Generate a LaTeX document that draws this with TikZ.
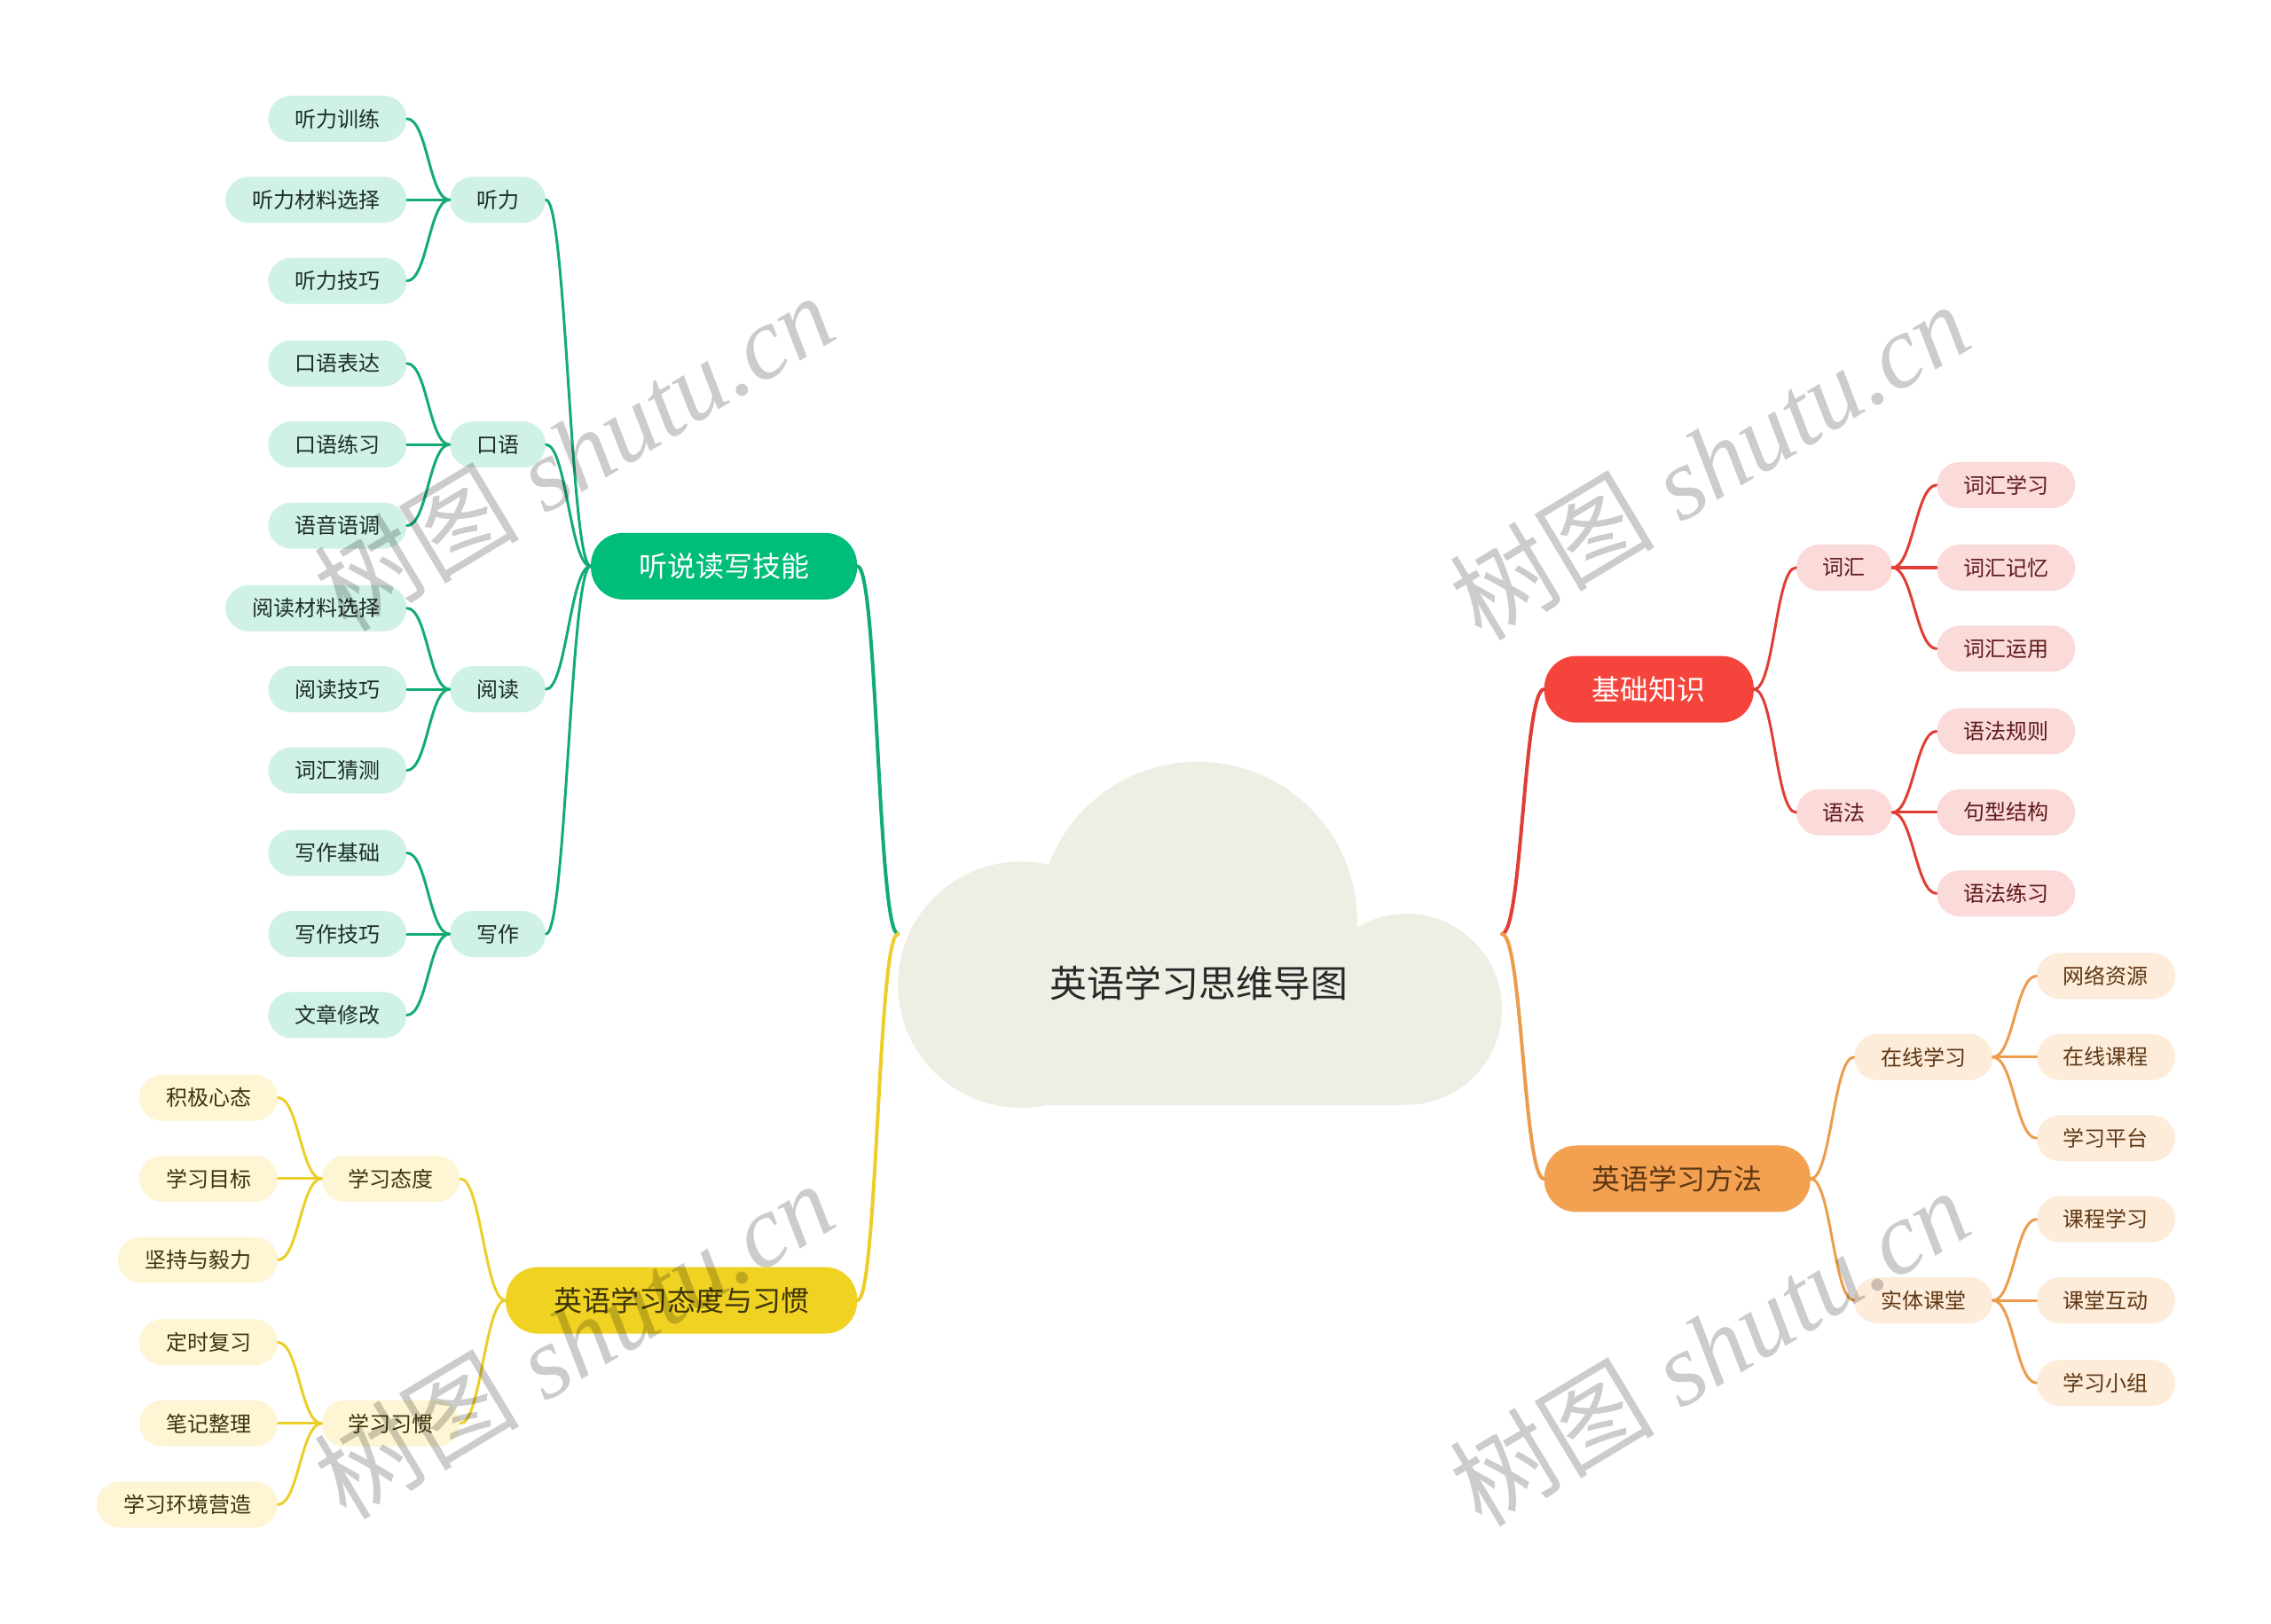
\documentclass[tikz,border=0pt]{standalone}
\usepackage{fontspec}
\newfontfamily\cjk{Noto Sans CJK SC}
\newfontfamily\wmserif{Liberation Serif}
\usepackage{tikz}
\definecolor{cloudbg}{RGB}{239,238,228}
\definecolor{rootink}{RGB}{40,40,40}
\definecolor{skillgreen}{RGB}{0,189,122}
\definecolor{skillline}{RGB}{18,172,114}
\definecolor{mint}{RGB}{207,242,228}
\definecolor{greenink}{RGB}{30,45,38}
\definecolor{habityellow}{RGB}{240,210,35}
\definecolor{habitline}{RGB}{236,206,42}
\definecolor{cream}{RGB}{253,245,212}
\definecolor{habitink}{RGB}{60,52,10}
\definecolor{basicred}{RGB}{244,68,60}
\definecolor{basicline}{RGB}{224,62,52}
\definecolor{blush}{RGB}{251,218,218}
\definecolor{redink}{RGB}{95,25,25}
\definecolor{methodorange}{RGB}{243,161,80}
\definecolor{methodline}{RGB}{236,156,76}
\definecolor{peach}{RGB}{253,236,218}
\definecolor{orangeink}{RGB}{95,55,20}

\begin{document}
\begin{tikzpicture}[x=0.8163pt,y=-0.8163pt,
        rootlbl/.style={font=\cjk\fontsize{21}{25}\selectfont,text=rootink},
        mainbox/.style={rounded corners=18pt,minimum height=37.5pt,
                        inner xsep=27pt,inner ysep=2pt,
                        font=\cjk\fontsize{16}{19}\selectfont},
        subbox/.style={rounded corners=13pt,minimum height=26pt,
                       inner xsep=15pt,inner ysep=2pt,
                       font=\cjk\fontsize{12}{14}\selectfont},
        gsub/.style={subbox,fill=mint,text=greenink,anchor=east},
        ysub/.style={subbox,fill=cream,text=habitink,anchor=east},
        rsub/.style={subbox,fill=blush,text=redink,anchor=west},
        osub/.style={subbox,fill=peach,text=orangeink,anchor=west},
        link/.style={line width=2pt,line cap=round},
        twig/.style={line width=1.5pt,line cap=round},
        sline/.style={to path={.. controls +(14,0) and +(-14,0) .. (\tikztotarget)}},
        wm/.style={font=\wmserif\itshape\fontsize{58}{60}\selectfont,
                   text=black,text opacity=0.2,rotate=31},
      ]
        \useasboundingbox[fill=white](0,0)rectangle(1568,1121);
        % cloud
        \fill[cloudbg](705,680)circle(85);
        \fill[cloudbg](827,636)circle(110);
        \fill[cloudbg](971,697)circle(66);
        \fill[cloudbg](705,640)rectangle(971,763);
        \node[rootlbl](root)at(828,679){英语学习思维导图};
        \coordinate(cl)at(620,645);
        \coordinate(cr)at(1037,645);

        % main branches
        \node[mainbox,fill=skillgreen,text=white,anchor=east](skill)at(592,391){听说读写技能};
        \node[mainbox,fill=habityellow,text=habitink,anchor=east](habit)at(592,898){英语学习态度与习惯};
        \node[mainbox,fill=basicred,text=white,anchor=west](basic)at(1066,476){基础知识};
        \node[mainbox,fill=methodorange,text=orangeink,anchor=west](method)at(1066,814){英语学习方法};

        % skills
        \node[gsub](ting)at(377,138){听力};
        \node[gsub](kou)at(377,307){口语};
        \node[gsub](yue)at(377,476){阅读};
        \node[gsub](xie)at(377,645){写作};
        \node[gsub](t1)at(281,82){听力训练};
        \node[gsub](t2)at(281,138){听力材料选择};
        \node[gsub](t3)at(281,194){听力技巧};
        \node[gsub](k1)at(281,251){口语表达};
        \node[gsub](k2)at(281,307){口语练习};
        \node[gsub](k3)at(281,363){语音语调};
        \node[gsub](y1)at(281,420){阅读材料选择};
        \node[gsub](y2)at(281,476){阅读技巧};
        \node[gsub](y3)at(281,532){词汇猜测};
        \node[gsub](x1)at(281,589){写作基础};
        \node[gsub](x2)at(281,645){写作技巧};
        \node[gsub](x3)at(281,701){文章修改};

        % attitude and habits
        \node[ysub](tai)at(318,814){学习态度};
        \node[ysub](guan)at(318,983){学习习惯};
        \node[ysub](a1)at(192,758){积极心态};
        \node[ysub](a2)at(192,814){学习目标};
        \node[ysub](a3)at(192,870){坚持与毅力};
        \node[ysub](h1)at(192,927){定时复习};
        \node[ysub](h2)at(192,983){笔记整理};
        \node[ysub](h3)at(192,1039){学习环境营造};

        % basics
        \node[rsub](cihui)at(1240,392){词汇};
        \node[rsub](yufa)at(1240,561){语法};
        \node[rsub](c1)at(1337,335){词汇学习};
        \node[rsub](c2)at(1337,392){词汇记忆};
        \node[rsub](c3)at(1337,448){词汇运用};
        \node[rsub](g1)at(1337,505){语法规则};
        \node[rsub](g2)at(1337,561){句型结构};
        \node[rsub](g3)at(1337,617){语法练习};

        % methods
        \node[osub](online)at(1280,730){在线学习};
        \node[osub](offline)at(1280,898){实体课堂};
        \node[osub](o1)at(1406,674){网络资源};
        \node[osub](o2)at(1406,730){在线课程};
        \node[osub](o3)at(1406,786){学习平台};
        \node[osub](f1)at(1406,842){课程学习};
        \node[osub](f2)at(1406,898){课堂互动};
        \node[osub](f3)at(1406,955){学习小组};

        % connectors
        \draw[link,skillline](skill.east)to[sline](cl);
        \draw[link,habitline](habit.east)to[sline](cl);
        \draw[link,basicline](cr)to[sline](basic.west);
        \draw[link,methodline](cr)to[sline](method.west);

        \draw[twig,skillline](ting.east)to[sline](skill.west);
        \draw[twig,skillline](kou.east)to[sline](skill.west);
        \draw[twig,skillline](yue.east)to[sline](skill.west);
        \draw[twig,skillline](xie.east)to[sline](skill.west);
        \draw[twig,skillline](t1.east)to[sline](ting.west);
        \draw[twig,skillline](t2.east)to[sline](ting.west);
        \draw[twig,skillline](t3.east)to[sline](ting.west);
        \draw[twig,skillline](k1.east)to[sline](kou.west);
        \draw[twig,skillline](k2.east)to[sline](kou.west);
        \draw[twig,skillline](k3.east)to[sline](kou.west);
        \draw[twig,skillline](y1.east)to[sline](yue.west);
        \draw[twig,skillline](y2.east)to[sline](yue.west);
        \draw[twig,skillline](y3.east)to[sline](yue.west);
        \draw[twig,skillline](x1.east)to[sline](xie.west);
        \draw[twig,skillline](x2.east)to[sline](xie.west);
        \draw[twig,skillline](x3.east)to[sline](xie.west);

        \draw[twig,habitline](tai.east)to[sline](habit.west);
        \draw[twig,habitline](guan.east)to[sline](habit.west);
        \draw[twig,habitline](a1.east)to[sline](tai.west);
        \draw[twig,habitline](a2.east)to[sline](tai.west);
        \draw[twig,habitline](a3.east)to[sline](tai.west);
        \draw[twig,habitline](h1.east)to[sline](guan.west);
        \draw[twig,habitline](h2.east)to[sline](guan.west);
        \draw[twig,habitline](h3.east)to[sline](guan.west);

        \draw[twig,basicline](basic.east)to[sline](cihui.west);
        \draw[twig,basicline](basic.east)to[sline](yufa.west);
        \draw[twig,basicline](cihui.east)to[sline](c1.west);
        \draw[twig,basicline](cihui.east)to[sline](c2.west);
        \draw[twig,basicline](cihui.east)to[sline](c3.west);
        \draw[twig,basicline](yufa.east)to[sline](g1.west);
        \draw[twig,basicline](yufa.east)to[sline](g2.west);
        \draw[twig,basicline](yufa.east)to[sline](g3.west);

        \draw[twig,methodline](method.east)to[sline](online.west);
        \draw[twig,methodline](method.east)to[sline](offline.west);
        \draw[twig,methodline](online.east)to[sline](o1.west);
        \draw[twig,methodline](online.east)to[sline](o2.west);
        \draw[twig,methodline](online.east)to[sline](o3.west);
        \draw[twig,methodline](offline.east)to[sline](f1.west);
        \draw[twig,methodline](offline.east)to[sline](f2.west);
        \draw[twig,methodline](offline.east)to[sline](f3.west);

        % watermark
        \node[wm](wm1)at(396,312){{\cjk 树图} shutu.cn};
        \node[wm](wm2)at(1180,318){{\cjk 树图} shutu.cn};
        \node[wm](wm3)at(396,925){{\cjk 树图} shutu.cn};
        \node[wm](wm4)at(1180,930){{\cjk 树图} shutu.cn};
      \end{tikzpicture}
\end{document}
